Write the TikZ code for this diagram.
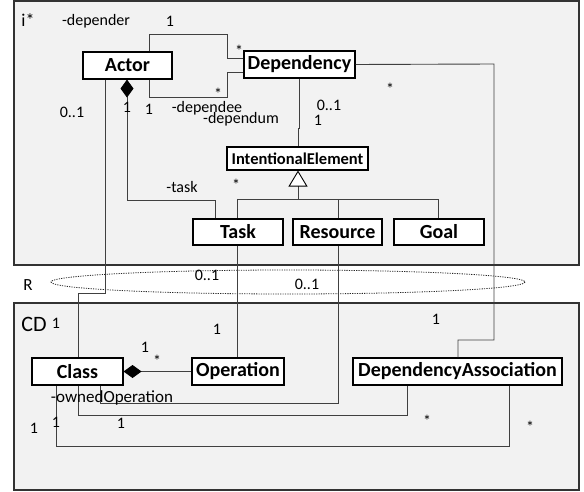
\documentclass[tikz,border=0pt]{standalone}
\usepackage{fontspec}
\setmainfont{Carlito}
\usetikzlibrary{arrows.meta}
\begin{document}
\begin{tikzpicture}[x=1pt,y=-1pt,
  panel/.style={draw=black!80,line width=1.4pt,fill=black!5},
  cls/.style={draw=black,line width=1.1pt,fill=white,inner sep=0pt,
    font=\bfseries\fontsize{20}{22}\selectfont},
  conn/.style={draw=black!75,line width=0.9pt},
  lbl/.style={anchor=base,inner sep=0pt,font=\fontsize{16}{18}\selectfont},
  comp/.style={{Diamond[length=18pt,width=13pt,color=black]}-},
  gen/.style={{Triangle[length=16pt,width=19pt,fill=white,color=black]}-}]
\useasboundingbox (0,0) rectangle (584,492);

% packages
\path[panel] (14,1) rectangle (579,265);
\path[panel] (14,303) rectangle (579,490);
\node[anchor=base,inner sep=0pt,font=\fontsize{18}{20}\selectfont] (istar) at (28,27) {i*};
\node[anchor=base,inner sep=0pt,font=\fontsize{22}{24}\selectfont] (cd) at (34,331) {CD};
\node[anchor=base,inner sep=0pt,font=\fontsize{17}{19}\selectfont] (r) at (28,290) {R};

% mapping relation
\draw[black!85,line width=0.8pt,dash pattern=on 1.2pt off 1.2pt] (288,282) ellipse [x radius=237, y radius=12];

% i* classes
\node[cls,minimum width=89pt,minimum height=27pt] (actor) at (127.5,65.5) {Actor};
\node[cls,minimum width=111pt,minimum height=27pt] (dep) at (299.5,64.5) {Dependency};
\node[cls,minimum width=141pt,minimum height=23pt,font=\bfseries\fontsize{16.5}{18}\selectfont] (ie) at (297.5,158.5) {IntentionalElement};
\node[cls,minimum width=90pt,minimum height=26pt] (task) at (238,232) {Task};
\node[cls,minimum width=89pt,minimum height=26pt] (res) at (337.5,232) {Resource};
\node[cls,minimum width=90pt,minimum height=26pt] (goal) at (439,232) {Goal};

% CD classes
\node[cls,minimum width=91pt,minimum height=27pt] (class) at (77.5,371.5) {Class};
\node[cls,minimum width=92pt,minimum height=27pt] (op) at (238,371.5) {Operation};
\node[cls,minimum width=209pt,minimum height=27pt] (da) at (457.5,371.5) {DependencyAssociation};

% connectors inside i*
\draw[conn] (actor.north -| 149,0) -- (149,34) -- (227,34) -- (227,58) -- (dep.west |- 0,58);
\draw[conn] (actor.south -| 149,0) -- (149,97) -- (227,97) -- (227,72) -- (dep.west |- 0,72);
\draw[conn,comp] (actor.south -| 127,0) -- (127,200) -- (215,200) -- (task.north -| 215,0);
\draw[conn] (dep.south -| 299,0) -- (299,128) -- (298,128) -- (ie.north -| 298,0);
\draw[conn,gen] (ie.south -| 298,0) -- (298,199);
\draw[conn] (237,199) -- (438,199);
\draw[conn] (237,199) -- (task.north -| 237,0);
\draw[conn] (res.north -| 338,0) -- (338,199);
\draw[conn] (goal.north -| 438,0) -- (438,199);

% connectors across R
\draw[conn] (actor.south -| 105,0) -- (105,293) -- (78,293) -- (class.north -| 78,0);
\draw[conn] (task.south -| 237,0) -- (op.north -| 237,0);
\draw[conn] (dep.east) -- (494,64) -- (494,340) -- (458,340) -- (da.north -| 458,0);
\draw[conn] (res.south -| 338,0) -- (338,403) -- (100,403) -- (class.south -| 100,0);

% connectors inside CD
\draw[conn,comp] (class.east) -- (op.west);
\draw[conn] (class.south -| 78,0) -- (78,415) -- (407,415) -- (da.south -| 407,0);
\draw[conn] (class.south -| 56,0) -- (56,446) -- (509,446) -- (da.south -| 509,0);

% role names and multiplicities
\node[lbl] (l1) at (96,26) {-depender};
\node[lbl] (l2) at (170,27) {1};
\node[lbl] (l3) at (239,57) {*};
\node[lbl] (l4) at (218,100) {*};
\node[lbl] (l5) at (207,113) {-dependee};
\node[lbl] (l6) at (241,124) {-dependum};
\node[lbl] (l7) at (72,118) {0..1};
\node[lbl] (l8) at (127,113) {1};
\node[lbl] (l9) at (149,115) {1};
\node[lbl] (l10) at (329,111) {0..1};
\node[lbl] (l11) at (318,126) {1};
\node[lbl] (l12) at (390,95) {*};
\node[lbl] (l13) at (182,193) {-task};
\node[lbl] (l14) at (236,191) {*};
\node[lbl] (l15) at (207,280) {0..1};
\node[lbl] (l16) at (307,289) {0..1};
\node[lbl] (l17) at (56,328) {1};
\node[lbl] (l18) at (217,334) {1};
\node[lbl] (l19) at (145,352) {1};
\node[lbl] (l20) at (157,366) {*};
\node[lbl] (l21) at (436,324) {1};
\node[lbl,font=\fontsize{17}{19}\selectfont] (l22) at (112,402) {-ownedOperation};
\node[lbl] (l23) at (56,427) {1};
\node[lbl] (l24) at (34,433) {1};
\node[lbl] (l25) at (121,428) {1};
\node[lbl] (l26) at (427,426) {*};
\node[lbl] (l27) at (530,432) {*};
\end{tikzpicture}
\end{document}
